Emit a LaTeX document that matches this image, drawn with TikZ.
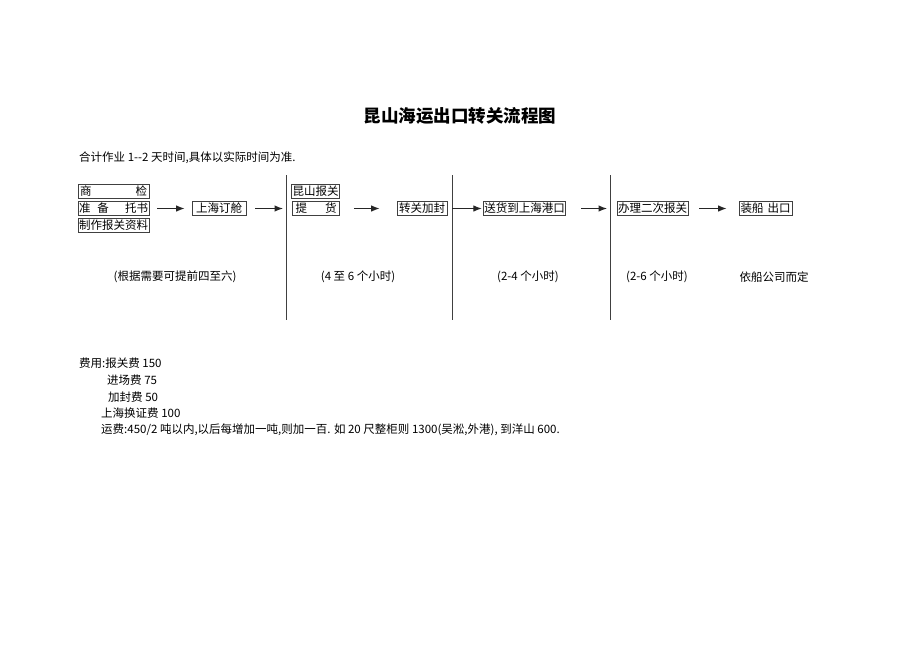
\documentclass[tikz,border=0pt]{standalone}
\usepackage{fontspec}
\setmainfont{Noto Sans CJK SC}
\usepackage{tikz}
\usetikzlibrary{arrows.meta,positioning}

\begin{document}
\begin{tikzpicture}[x=1pt,y=-1pt,
  box/.style={draw=black!75, line width=0.7pt, inner sep=1pt, minimum height=14pt, font=\fontsize{11.5}{12}\selectfont},
  txt/.style={inner sep=0pt, font=\fontsize{11.5}{12}\selectfont},
  arr/.style={-{Latex[length=8.5pt,width=6.5pt]}, line width=1.1pt, black!85},
  sep/.style={line width=0.9pt, black!75}]
\useasboundingbox (0,0) rectangle (920,651);
\node[font=\bfseries\fontsize{17.5}{18}\selectfont] (title) at (460,116) {昆山海运出口转关流程图};
\node[txt, anchor=west] (note) at (79,158) {合计作业 1-{}-2 天时间,具体以实际时间为准.};
% boxes
\node[box, minimum width=71pt] (insp) at (113.5,191) {商\hspace{44pt}检};
\node[box, minimum width=71pt] (prep) at (113.5,208.5) {准\hspace{7pt}备\hspace{16pt}托书};
\node[box, minimum width=71pt] (docs) at (113.5,225.5) {制作报关资料};
\node[box, minimum width=54pt] (order) at (219,208.5) {上海订舱};
\node[box, minimum width=47pt] (kscust) at (315.5,191.5) {昆山报关};
\node[box, minimum width=47pt] (pickup) at (316,208.5) {提\hspace{18pt}货};
\node[box, minimum width=50pt] (seal) at (422,208.5) {转关加封};
\node[box, minimum width=81pt] (deliver) at (524.5,208.5) {送货到上海港口};
\node[box, minimum width=69pt] (recust) at (652.5,208.5) {办理二次报关};
\node[box, minimum width=53pt] (ship) at (765.5,208.5) {装船\hspace{4pt}出口};
% separators
\coordinate (l1t) at (286,175); \coordinate (l1b) at (286,320);
\coordinate (l2t) at (452,175); \coordinate (l2b) at (452,320);
\coordinate (l3t) at (610,175); \coordinate (l3b) at (610,320);
\draw[sep] (l1t) -- (l1b);
\draw[sep] (l2t) -- (l2b);
\draw[sep] (l3t) -- (l3b);
% arrows
\draw[arr, shorten <=8pt, shorten >=7pt] (prep) -- (order);
\draw[arr, shorten <=9pt, shorten >=3pt] (order) -- (order -| l1t);
\draw[arr, shorten <=14pt, shorten >=17pt] (pickup) -- (seal);
\draw[arr, shorten >=1pt] (seal -| l2t) -- (deliver);
\draw[arr, shorten <=15pt, shorten >=3pt] (deliver) -- (deliver -| l3t);
\draw[arr, shorten <=11pt, shorten >=12pt] (recust) -- (ship);
% times
\node[txt] (tprep) at (175,277) {(根据需要可提前四至六)};
\node[txt] (tpick) at (358,277) {(4 至 6 个小时)};
\node[txt] (tdeliv) at (528,277) {(2-4 个小时)};
\node[txt] (tcust) at (657,277) {(2-6 个小时)};
\node[txt] (tship) at (774,277) {依船公司而定};
% fees
\node[txt, anchor=west] (fee1) at (79,363) {费用:报关费 150};
\node[txt, anchor=west] (fee2) at (107,380) {进场费 75};
\node[txt, anchor=west] (fee3) at (108,397) {加封费 50};
\node[txt, anchor=west] (fee4) at (101,413) {上海换证费 100};
\node[txt, anchor=west] (fee5) at (101,430) {运费:450/2 吨以内,以后每增加一吨,则加一百. 如 20 尺整柜则 1300(吴淞,外港), 到洋山 600.};
\end{tikzpicture}
\end{document}
